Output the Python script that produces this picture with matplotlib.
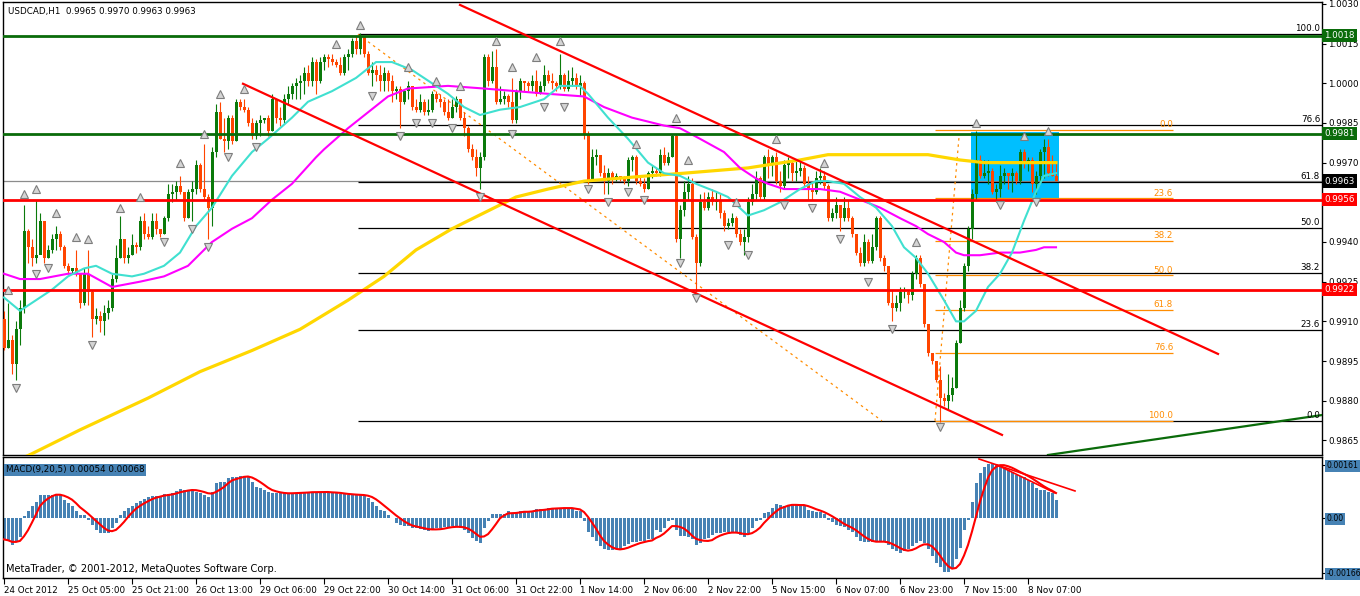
import matplotlib

matplotlib.use("Agg")
import matplotlib.pyplot as plt
import matplotlib.transforms as mtransforms
from matplotlib.patches import Rectangle
import numpy as np
import pandas as pd

plt.rcParams["font.family"] = ["DejaVu Sans"]

# ---- price data, H1 bars, in pips (price * 10000) ----
FIRST_OPEN = 9911
CLOSE = [
    9900, 9903, 9894, 9907, 9915, 9944, 9938, 9934, 9935, 9948,
    9934, 9937, 9941, 9943, 9938, 9931, 9929, 9930, 9928, 9917,
    9928, 9921, 9911, 9912, 9910, 9913, 9915, 9926, 9934, 9941,
    9934, 9935, 9939, 9938, 9948, 9943, 9942, 9948, 9945, 9943,
    9949, 9958, 9959, 9961, 9959, 9949, 9959, 9960, 9969, 9960,
    9957, 9953, 9974, 9989, 9979, 9978, 9987, 9978, 9993, 9991,
    9990, 9985, 9980, 9985, 9986, 9987, 9982, 9994, 9987, 9986,
    9994, 9996, 9999, 10000, 10001, 10004, 10001, 10008, 10001, 10008,
    10010, 10009, 10008, 10007, 10004, 10010, 10011, 10016, 10013, 10018,
    10011, 10004, 10005, 10003, 10001, 10004, 10001, 9997, 9998, 9993,
    9997, 9999, 9991, 9990, 9993, 9989, 9990, 9996, 9994, 9993,
    9989, 9987, 9991, 9994, 9987, 9983, 9975, 9972, 9968, 9972,
    10010, 10001, 10006, 9993, 9994, 9995, 9993, 9986, 9997, 10001,
    10000, 9999, 10001, 9996, 9999, 10003, 10001, 10000, 9999, 10003,
    9998, 10001, 10002, 9999, 10000, 9981, 9963, 9972, 9973, 9966,
    9963, 9966, 9964, 9965, 9964, 9963, 9971, 9972, 9963, 9962,
    9960, 9966, 9967, 9966, 9973, 9970, 9972, 9980, 9941, 9952,
    9959, 9962, 9942, 9932, 9955, 9953, 9957, 9955, 9956, 9951,
    9946, 9947, 9949, 9943, 9940, 9942, 9955, 9958, 9964, 9957,
    9972, 9969, 9972, 9963, 9961, 9969, 9970, 9966, 9967, 9968,
    9962, 9960, 9959, 9964, 9965, 9961, 9949, 9951, 9954, 9949,
    9953, 9949, 9943, 9936, 9932, 9940, 9933, 9938, 9949, 9934,
    9931, 9917, 9915, 9917, 9921, 9921, 9920, 9928, 9934, 9924,
    9909, 9898, 9895, 9888, 9881, 9880, 9882, 9885, 9902, 9915,
    9931, 9945, 9958, 9971, 9965, 9966, 9967, 9959, 9960, 9965,
    9966, 9965, 9966, 9963, 9974, 9970, 9971, 9962, 9965, 9974,
    9976, 9966, 9965, 9963,
]
HIGH = [
    9914, 9917, 9905, 9910, 9918, 9954, 9945, 9941, 9956, 9951,
    9948, 9939, 9943, 9946, 9944, 9939, 9932, 9930, 9937, 9928,
    9930, 9937, 9922, 9915, 9914, 9916, 9918, 9928, 9939, 9950,
    9941, 9938, 9943, 9940, 9950, 9951, 9946, 9951, 9951, 9945,
    9950, 9962, 9962, 9963, 9965, 9959, 9960, 9963, 9971, 9970,
    9977, 9958, 9976, 9992, 9993, 9987, 9988, 9988, 9994, 9994,
    9994, 9991, 9987, 9986, 9988, 9987, 9988, 9996, 9994, 9991,
    9996, 9999, 10000, 10002, 10003, 10006, 10007, 10010, 10009, 10010,
    10011, 10011, 10011, 10009, 10010, 10011, 10013, 10017, 10018, 10019,
    10018, 10012, 10008, 10007, 10007, 10006, 10005, 10003, 9999, 9999,
    9998, 10001, 9999, 9994, 9996, 9994, 9994, 9997, 9997, 9996,
    9994, 9994, 9994, 9995, 9994, 9989, 9984, 9977, 9975, 9974,
    10011, 10011, 10012, 10013, 9999, 9997, 9996, 10002, 9998, 10002,
    10001, 10001, 10003, 10005, 10001, 10007, 10005, 10004, 10001, 10011,
    10004, 10005, 10006, 10004, 10003, 10001, 9982, 9975, 9975, 9973,
    9969, 9968, 9967, 9966, 9965, 9965, 9972, 9973, 9973, 9965,
    9964, 9967, 9969, 9968, 9975, 9976, 9974, 9981, 9981, 9954,
    9963, 9965, 9964, 9943, 9958, 9959, 9959, 9960, 9959, 9958,
    9952, 9949, 9951, 9950, 9945, 9945, 9957, 9962, 9967, 9965,
    9973, 9975, 9973, 9974, 9967, 9971, 9972, 9971, 9971, 9971,
    9969, 9965, 9963, 9967, 9968, 9967, 9962, 9953, 9957, 9954,
    9957, 9956, 9950, 9943, 9938, 9943, 9941, 9943, 9950, 9950,
    9935, 9931, 9922, 9920, 9923, 9923, 9922, 9929, 9935, 9935,
    9924, 9909, 9898, 9895, 9893, 9883, 9890, 9889, 9903, 9918,
    9932, 9946, 9960, 9982, 9973, 9971, 9971, 9968, 9962, 9969,
    9968, 9966, 9968, 9967, 9975, 9975, 9972, 9972, 9967, 9975,
    9979, 9979, 9973, 9970,
]
LOW = [
    9899, 9900, 9890, 9888, 9901, 9913, 9932, 9931, 9932, 9939,
    9932, 9934, 9936, 9937, 9937, 9930, 9928, 9928, 9927, 9915,
    9916, 9916, 9904, 9909, 9906, 9905, 9911, 9914, 9925, 9934,
    9932, 9932, 9935, 9936, 9937, 9941, 9941, 9941, 9943, 9942,
    9943, 9948, 9955, 9956, 9958, 9948, 9949, 9948, 9958, 9959,
    9956, 9941, 9946, 9972, 9979, 9974, 9975, 9977, 9978, 9990,
    9989, 9984, 9979, 9979, 9980, 9985, 9980, 9982, 9985, 9984,
    9985, 9992, 9994, 9994, 9994, 9996, 9999, 9999, 9996, 10000,
    10005, 10006, 10007, 10006, 10003, 10003, 10005, 10010, 10011, 10011,
    10010, 10003, 9999, 10001, 9997, 9997, 9997, 9993, 9994, 9983,
    9992, 9994, 9990, 9989, 9989, 9988, 9988, 9989, 9993, 9991,
    9988, 9986, 9987, 9989, 9986, 9980, 9974, 9971, 9965, 9960,
    9971, 9999, 10000, 9992, 9992, 9992, 9991, 9985, 9985, 9994,
    9997, 9997, 9997, 9995, 9996, 9997, 10000, 9998, 9997, 9998,
    9997, 9997, 9999, 9998, 9995, 9979, 9962, 9963, 9969, 9965,
    9958, 9958, 9962, 9963, 9963, 9962, 9961, 9967, 9962, 9961,
    9959, 9960, 9964, 9965, 9965, 9969, 9969, 9972, 9940, 9934,
    9950, 9956, 9941, 9921, 9931, 9952, 9952, 9954, 9952, 9949,
    9944, 9945, 9946, 9942, 9939, 9935, 9940, 9954, 9956, 9956,
    9956, 9964, 9965, 9962, 9959, 9960, 9964, 9963, 9963, 9965,
    9961, 9956, 9956, 9958, 9962, 9960, 9948, 9948, 9949, 9944,
    9948, 9948, 9942, 9935, 9931, 9931, 9932, 9932, 9937, 9933,
    9929, 9916, 9910, 9914, 9914, 9919, 9917, 9918, 9926, 9923,
    9908, 9897, 9894, 9887, 9872, 9878, 9877, 9880, 9885, 9902,
    9914, 9929, 9941, 9956, 9964, 9964, 9962, 9958, 9955, 9957,
    9962, 9960, 9959, 9962, 9962, 9968, 9967, 9959, 9958, 9963,
    9964, 9965, 9965, 9963,
]

# moving averages (bar index, pips)
CYAN_BARS = [0, 4, 12, 16, 20, 23, 27, 32, 35, 40, 44, 48, 52, 57, 62, 66, 72, 76, 82, 88,
             93, 97, 102, 106, 111, 115, 119, 124, 129, 133, 135, 139, 144, 146, 151, 156, 161, 165, 169, 173,
             178, 181, 186, 190, 194, 199, 203, 206, 210, 214, 218, 222, 225, 228, 231, 235, 238, 240, 243, 246,
             249, 252, 255, 258, 260, 263]
CYAN_PIPS = [9919, 9914, 9922, 9927, 9930, 9931, 9928, 9927, 9928, 9931, 9936, 9946, 9953, 9965, 9974, 9979, 9987, 9993, 9997, 10002,
             10008, 10008, 10005, 10001, 9996, 9991, 9988, 9990, 9991, 9993, 9994, 9999, 9999, 9996, 9987, 9979, 9970, 9966, 9965, 9962,
             9959, 9957, 9950, 9952, 9955, 9960, 9963, 9963, 9962, 9957, 9953, 9946, 9938, 9934, 9928, 9918, 9910, 9910, 9914, 9923,
             9928, 9936, 9948, 9959, 9965, 9966]
MAGENTA_BARS = [0, 4, 9, 16, 21, 27, 34, 40, 46, 52, 57, 62, 67, 72, 78, 80, 86, 91, 96, 101,
                111, 120, 128, 136, 145, 150, 157, 165, 169, 174, 180, 184, 188, 191, 195, 199, 204, 209, 214, 219,
                224, 228, 231, 235, 238, 240, 244, 249, 254, 258, 260, 263]
MAGENTA_PIPS = [9928, 9926, 9926, 9928, 9928, 9923, 9925, 9927, 9931, 9940, 9945, 9949, 9956, 9962, 9972, 9975, 9983, 9989, 9995, 9998,
                9999, 9998, 9997, 9996, 9995, 9991, 9987, 9984, 9983, 9979, 9974, 9968, 9964, 9962, 9960, 9960, 9960, 9959, 9956, 9953,
                9949, 9946, 9943, 9940, 9936, 9935, 9935, 9936, 9936, 9937, 9938, 9938]
YELLOW_BARS = [0, 7, 19, 36, 49, 62, 74, 86, 95, 103, 112, 120, 128, 136, 145, 153, 161, 170, 178, 186,
               199, 206, 216, 224, 231, 239, 245, 254, 263]
YELLOW_PIPS = [9855, 9860, 9869, 9881, 9891, 9899, 9907, 9918, 9927, 9937, 9945, 9951, 9957, 9960, 9963, 9964, 9965, 9966, 9967, 9968,
               9971, 9973, 9973, 9973, 9973, 9971, 9970, 9970, 9970]

# Bill Williams fractals (bar index, pips)
UP_FRAC_BARS = [1, 5, 8, 13, 18, 21, 29, 34, 44, 50, 54, 60, 83, 89, 101, 108, 114, 123, 127, 133,
                139, 158, 168, 171, 183, 193, 205, 228, 243, 255, 261]
UP_FRAC_PIPS = [9922, 9958, 9960, 9951, 9942, 9941, 9953, 9957, 9970, 9981, 9996, 9998, 10015, 10022, 10006, 10001, 9999, 10016, 10006, 10010,
                10016, 9977, 9987, 9971, 9955, 9979, 9970, 9940, 9985, 9980, 9982]
DN_FRAC_BARS = [3, 8, 11, 22, 40, 47, 51, 56, 63, 92, 99, 103, 107, 112, 119, 127, 135, 140, 146, 151,
                156, 160, 169, 173, 181, 186, 195, 202, 209, 216, 222, 234, 249, 258]
DN_FRAC_PIPS = [9885, 9928, 9930, 9901, 9940, 9945, 9938, 9972, 9976, 9995, 9980, 9985, 9985, 9983, 9957, 9981, 9991, 9991, 9960, 9955,
                9959, 9956, 9932, 9919, 9939, 9935, 9954, 9953, 9941, 9925, 9907, 9870, 9954, 9955]

# MACD(9,20,5) main values, x 1e-5
MACD = [
    -65, -70, -82, -73, -57, 5, 22, 35, 50, 70,
    70, 70, 70, 73, 70, 55, 45, 35, 20, 8,
    8, -5, -20, -35, -45, -45, -45, -30, -15, 10,
    20, 30, 37, 45, 52, 57, 63, 68, 68, 68,
    72, 72, 77, 82, 87, 85, 85, 85, 80, 75,
    70, 65, 80, 105, 110, 110, 120, 125, 125, 127,
    127, 125, 110, 95, 90, 85, 80, 75, 75, 75,
    75, 75, 75, 77, 78, 78, 78, 80, 78, 78,
    80, 78, 75, 75, 73, 72, 70, 70, 70, 70,
    68, 60, 50, 35, 25, 20, 10, 0, -15, -20,
    -23, -25, -30, -30, -33, -35, -40, -35, -30, -30,
    -27, -27, -25, -25, -30, -35, -45, -60, -70, -75,
    -30, -10, 12, 12, 12, 12, 22, 15, 15, 20,
    22, 22, 20, 27, 27, 27, 30, 30, 30, 30,
    30, 30, 30, 20, 20, -10, -43, -57, -70, -85,
    -93, -97, -98, -95, -93, -85, -80, -73, -73, -70,
    -70, -65, -63, -35, -43, -30, -10, -5, -35, -55,
    -55, -57, -65, -83, -75, -65, -60, -53, -45, -45,
    -43, -43, -45, -45, -53, -57, -45, -30, -10, -5,
    15, 17, 30, 42, 40, 35, 40, 42, 42, 37,
    35, 25, 20, 17, 17, 12, -5, -13, -20, -23,
    -27, -35, -43, -57, -70, -73, -73, -73, -70, -70,
    -73, -83, -95, -100, -105, -100, -95, -85, -75, -70,
    -75, -95, -115, -135, -150, -163, -165, -155, -125, -90,
    -35, -5, 50, 105, 135, 155, 163, 163, 160, 160,
    155, 147, 140, 130, 127, 125, 115, 105, 90, 85,
    85, 80, 75, 54,
]

# horizontal levels
GREEN_LEVELS = [1.0018, 0.9981]
RED_LEVELS = [0.9956, 0.9922]
BID = 0.9963

# fibonacci retracements
FIB_LEVELS = [0.0, 23.6, 38.2, 50.0, 61.8, 76.6, 100.0]
FIB1_LOW, FIB1_HIGH = 0.98724, 1.00185
FIB1_START = 88.5
FIB2_TOP, FIB2_BOTTOM = 0.99824, 0.98724
FIB2_START, FIB2_END = 232.75, 292.25

# trend lines (bar, price) pairs
CHANNEL_UPPER = ([114.0, 303.5], [1.00296, 0.98977])
CHANNEL_LOWER = ([59.75, 249.5], [0.99998, 0.98671])
GREEN_TREND = ([261.0, 329.5], [0.98595, 0.98746])
FIB1_DIAG = ([88.5, 219.5], [1.00185, 0.98724])
FIB2_DIAG = ([232.75, 238.75], [0.98724, 0.99797])
MACD_TREND_A = ([243.75, 267.75], [0.00179, 0.00082])
MACD_TREND_B = ([248.25, 262.75], [0.00161, 0.00076])

BOX_BARS = (241.75, 263.75)
BOX_PRICES = (0.99567, 0.99816)

PRICE_TICKS = [1.0030, 1.0015, 1.0000, 0.9985, 0.9970, 0.9940, 0.9925, 0.9910, 0.9895, 0.9880, 0.9865]
TIME_LABELS = ["24 Oct 2012", "25 Oct 05:00", "25 Oct 21:00", "26 Oct 13:00", "29 Oct 06:00",
               "29 Oct 22:00", "30 Oct 14:00", "31 Oct 06:00", "31 Oct 22:00", "1 Nov 14:00",
               "2 Nov 06:00", "2 Nov 22:00", "5 Nov 15:00", "6 Nov 07:00", "6 Nov 23:00",
               "7 Nov 15:00", "8 Nov 07:00"]

GREEN_CANDLE = "#0b7a0b"
RED_CANDLE = "#ff4500"
FS = 6.3

close = np.array(CLOSE) / 1e4
high = np.array(HIGH) / 1e4
low = np.array(LOW) / 1e4
opens = np.r_[FIRST_OPEN / 1e4, close[:-1]]
bars = np.arange(len(close))

fig = plt.figure(figsize=(13.6, 5.96), dpi=100)
W, H = 1360.0, 596.0
ax = fig.add_axes([3 / W, 1 - 455 / H, 1319 / W, 453 / H])
axm = fig.add_axes([3 / W, 1 - 578 / H, 1319 / W, 121 / H])

# background box
ax.add_patch(Rectangle((BOX_BARS[0], BOX_PRICES[0]), BOX_BARS[1] - BOX_BARS[0], BOX_PRICES[1] - BOX_PRICES[0],
                       facecolor="#00bfff", edgecolor="none", zorder=1))

# levels and fib grids
ax.axhline(BID, color="#8c8c8c", linewidth=0.9, zorder=2)
fib1 = [FIB1_LOW + lv / 100 * (FIB1_HIGH - FIB1_LOW) for lv in FIB_LEVELS]
ax.hlines(fib1, FIB1_START, 329.5, color="black", linewidth=0.9, zorder=2)
for lv, p in zip(FIB_LEVELS, fib1):
    ax.text(329.0, p + 0.00003, f"{lv:.1f}", ha="right", va="bottom", fontsize=FS, color="black", zorder=6)
fib2 = [FIB2_TOP - lv / 100 * (FIB2_TOP - FIB2_BOTTOM) for lv in FIB_LEVELS]
ax.hlines(fib2, FIB2_START, FIB2_END, color="#ff8c00", linewidth=0.9, zorder=2)
for lv, p in zip(FIB_LEVELS, fib2):
    ax.text(FIB2_END, p + 0.00003, f"{lv:.1f}", ha="right", va="bottom", fontsize=FS, color="#ff8c00", zorder=6)
ax.plot(*FIB1_DIAG, color="#ff8c00", linewidth=0.9, linestyle=(0, (2, 3)), zorder=2)
ax.plot(*FIB2_DIAG, color="#ff8c00", linewidth=0.9, linestyle=(0, (2, 3)), zorder=2)

# candles
bull = close >= opens
colors = np.where(bull, GREEN_CANDLE, RED_CANDLE)
ax.vlines(bars, low, high, colors=colors, linewidth=0.8, zorder=3)
body = np.maximum(np.abs(close - opens), 0.000025)
ax.bar(bars, body, bottom=np.minimum(opens, close), width=0.75, color=colors, linewidth=0, zorder=3)

# moving averages
ax.plot(YELLOW_BARS, np.array(YELLOW_PIPS) / 1e4, color="#ffd700", linewidth=2.3, zorder=4)
ax.plot(MAGENTA_BARS, np.array(MAGENTA_PIPS) / 1e4, color="#ff00ff", linewidth=1.5, zorder=4)
ax.plot(CYAN_BARS, np.array(CYAN_PIPS) / 1e4, color="#40e0d0", linewidth=1.5, zorder=4)

for lvl in GREEN_LEVELS:
    ax.axhline(lvl, color="#0a6b0a", linewidth=2.0, zorder=5)
for lvl in RED_LEVELS:
    ax.axhline(lvl, color="#ff0000", linewidth=2.0, zorder=5)
ax.plot(*CHANNEL_UPPER, color="#ff0000", linewidth=1.6, zorder=5)
ax.plot(*CHANNEL_LOWER, color="#ff0000", linewidth=1.6, zorder=5)
ax.plot(*GREEN_TREND, color="#0a6b0a", linewidth=1.6, zorder=5)

# fractals
frac_kw = dict(linestyle="none", markersize=6.0, markerfacecolor="#d4d4d4", markeredgecolor="#7d7d7d",
               markeredgewidth=0.8, zorder=6)
ax.plot(UP_FRAC_BARS, np.array(UP_FRAC_PIPS) / 1e4, marker="^", **frac_kw)
ax.plot(DN_FRAC_BARS, np.array(DN_FRAC_PIPS) / 1e4, marker="v", **frac_kw)

ax.set_xlim(-0.25, 329.5)
ax.set_ylim(0.98595, 1.00307)
ax.set_xticks([])
ax.yaxis.tick_right()
ax.set_yticks(PRICE_TICKS)
ax.set_yticklabels([f"{t:.4f}" for t in PRICE_TICKS])
ax.tick_params(axis="y", direction="out", length=3, width=0.8, pad=1.5, labelsize=FS)

# coloured price labels on the scale
tr = mtransforms.blended_transform_factory(ax.transAxes, ax.transData)
for price, face in [(1.0018, "#0a6b0a"), (0.9981, "#0a6b0a"), (BID, "black"), (0.9956, "#ff0000"), (0.9922, "#ff0000")]:
    ax.text(1.0018, price, f"{price:.4f}", transform=tr, ha="left", va="center", fontsize=FS, color="white",
            bbox=dict(facecolor=face, edgecolor="none", pad=1.6), zorder=7)

ax.text(0.004, 0.988, "USDCAD,H1  0.9965 0.9970 0.9963 0.9963", transform=ax.transAxes,
        ha="left", va="top", fontsize=FS)

# MACD panel
macd = np.array(MACD) / 1e5
signal = pd.Series(macd).rolling(5, min_periods=1).mean().to_numpy()
axm.bar(bars, macd, width=0.75, color="#4682b4", linewidth=0, zorder=2)
axm.plot(bars, signal, color="#ff0000", linewidth=1.5, zorder=3)
axm.plot(*MACD_TREND_A, color="#ff0000", linewidth=1.2, zorder=3)
axm.plot(*MACD_TREND_B, color="#ff0000", linewidth=1.2, zorder=3)
axm.set_xlim(-0.25, 329.5)
axm.set_ylim(-0.00182, 0.00185)
axm.yaxis.tick_right()
macd_ticks = [0.00161, 0.0, -0.00166]
axm.set_yticks(macd_ticks)
axm.set_yticklabels(["0.00161", "0.00", "-0.00166"])
axm.tick_params(axis="y", direction="out", length=2, width=0.8, pad=1.0, labelsize=5.6)
for t in axm.get_yticklabels():
    t.set_bbox(dict(facecolor="#4682b4", edgecolor="none", pad=1.0))
axm.set_xticks(np.arange(len(TIME_LABELS)) * 16)
axm.set_xticklabels(TIME_LABELS, ha="left")
axm.tick_params(axis="x", direction="out", length=4, width=0.8, pad=1.5, labelsize=FS)
axm.text(0.002, 0.93, "MACD(9,20,5) 0.00054 0.00068", transform=axm.transAxes, ha="left", va="top",
         fontsize=FS, bbox=dict(facecolor="#4682b4", edgecolor="none", pad=1.2))
axm.text(0.002, 0.03, "MetaTrader, \u00a9 2001-2012, MetaQuotes Software Corp.", transform=axm.transAxes,
         ha="left", va="bottom", fontsize=FS + 0.8)

for a in (ax, axm):
    for s in a.spines.values():
        s.set_linewidth(1.0)

fig.savefig("out.png", dpi=100)
